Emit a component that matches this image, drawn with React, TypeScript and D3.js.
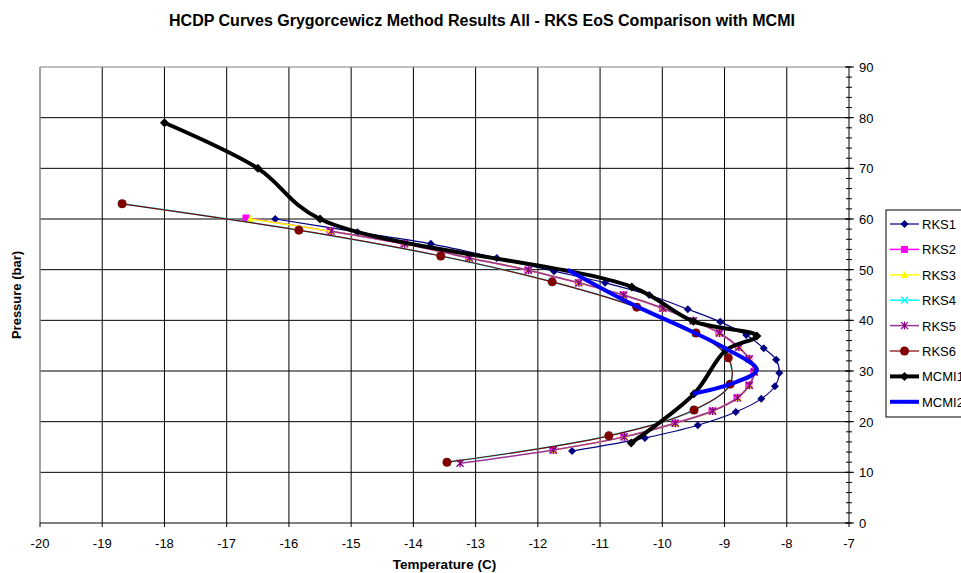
import React from "react";
import * as d3 from "d3";

// HCDP curves: temperature (C) vs pressure (bar)
const rks1: [number, number][] = [
  [-16.22, 60.0], [-14.9, 57.4], [-13.72, 55.1], [-12.66, 52.3], [-11.74, 49.7],
  [-10.92, 47.4], [-10.21, 45.0], [-9.59, 42.2], [-9.07, 39.7], [-8.65, 37.1],
  [-8.37, 34.5], [-8.17, 32.2], [-8.12, 29.6], [-8.19, 27.0], [-8.41, 24.5],
  [-8.82, 21.9], [-9.43, 19.3], [-10.28, 16.8], [-11.45, 14.2],
];
const rks2: [number, number][] = [
  [-16.69, 60.2], [-15.34, 57.6], [-14.15, 55.1], [-13.11, 52.3], [-12.16, 49.9],
  [-11.35, 47.4], [-10.63, 45.0], [-10.0, 42.4], [-9.51, 39.9], [-9.09, 37.5],
  [-8.78, 34.7], [-8.61, 32.4], [-8.53, 29.8], [-8.61, 27.2], [-8.8, 24.7],
  [-9.2, 22.1], [-9.8, 19.7], [-10.62, 17.0], [-11.76, 14.4],
];
const rks3: [number, number][] = [
  [-16.62, 60.0], [-15.33, 57.6], [-14.14, 55.1], [-13.1, 52.3], [-12.15, 49.9],
  [-11.34, 47.4], [-10.62, 45.0], [-9.99, 42.4], [-9.5, 39.9], [-9.08, 37.5],
  [-8.77, 34.7], [-8.6, 32.4], [-8.52, 29.8], [-8.6, 27.2], [-8.79, 24.7],
  [-9.19, 22.1], [-9.79, 19.7], [-10.61, 17.0], [-11.75, 14.4],
];
const rks4: [number, number][] = [
  [-18.68, 63.0], [-15.84, 57.8], [-13.56, 52.7], [-11.77, 47.6], [-10.41, 42.6],
  [-9.46, 37.5], [-8.94, 32.6], [-8.91, 27.4], [-9.49, 22.3], [-10.86, 17.2],
  [-13.46, 12.0],
];
const rks5: [number, number][] = [
  [-15.32, 57.6], [-14.14, 55.1], [-13.1, 52.3], [-12.15, 49.9],
  [-11.34, 47.4], [-10.62, 45.0], [-9.99, 42.4], [-9.5, 39.9], [-9.08, 37.5],
  [-8.77, 34.7], [-8.6, 32.4], [-8.52, 29.8], [-8.6, 27.2], [-8.79, 24.7],
  [-9.19, 22.1], [-9.79, 19.7], [-10.61, 17.0], [-11.75, 14.4], [-13.25, 11.8],
];
const rks6: [number, number][] = [
  [-18.68, 63.0], [-15.84, 57.8], [-13.56, 52.7], [-11.77, 47.6], [-10.41, 42.6],
  [-9.46, 37.5], [-8.94, 32.6], [-8.91, 27.4], [-9.49, 22.3], [-10.86, 17.2],
  [-13.46, 12.0],
];
const mcmi1: [number, number][] = [
  [-18.0, 79.0], [-16.5, 70.0], [-15.5, 60.0], [-10.49, 46.6], [-9.5, 39.8],
  [-8.48, 36.9], [-8.98, 34.1], [-9.49, 25.5], [-10.5, 15.8],
];
const mcmi2: [number, number][] = [
  [-11.52, 50.0], [-10.52, 43.4], [-9.51, 37.7], [-8.99, 34.5], [-8.48, 30.2],
  [-8.91, 27.4], [-9.51, 25.5],
];

const xTicks = d3.range(-20, -6, 1);
const yMajor = d3.range(0, 91, 10);
const yMinor = d3.range(0, 91, 2);

type Marker = "diamond" | "square" | "triangle" | "x" | "asterisk" | "circle" | "none";

interface Series {
  name: string;
  data: [number, number][];
  color: string;
  width: number;
  marker: Marker;
  size: number;
  fill: string;
}

const series: Series[] = [
  { name: "RKS1", data: rks1, color: "#000080", width: 1.2, marker: "diamond", size: 4, fill: "#000080" },
  { name: "RKS2", data: rks2, color: "#FF00FF", width: 1.5, marker: "square", size: 3.5, fill: "#FF00FF" },
  { name: "RKS3", data: rks3, color: "#FFFF00", width: 1.5, marker: "triangle", size: 4, fill: "#FFFF00" },
  { name: "RKS4", data: rks4, color: "#00FFFF", width: 1.5, marker: "x", size: 3.5, fill: "none" },
  { name: "RKS5", data: rks5, color: "#993399", width: 1.5, marker: "asterisk", size: 3.5, fill: "none" },
  { name: "RKS6", data: rks6, color: "#800000", width: 1.2, marker: "circle", size: 4.5, fill: "#800000" },
  { name: "MCMI1", data: mcmi1, color: "#000000", width: 4, marker: "diamond", size: 4.5, fill: "#000000" },
  { name: "MCMI2", data: mcmi2, color: "#0000FF", width: 4, marker: "none", size: 0, fill: "none" },
];

const W = 961;
const H = 573;
const PL = 40, PR = 849, PT = 67, PB = 523;

const x = d3.scaleLinear().domain([-20, -7]).range([PL, PR]);
const y = d3.scaleLinear().domain([0, 90]).range([PB, PT]);

const line = d3
  .line<[number, number]>()
  .x((d) => x(d[0]))
  .y((d) => y(d[1]))
  .curve(d3.curveCatmullRom.alpha(0.5));

function MarkerShape({ s, cx, cy }: { s: Series; cx: number; cy: number }) {
  const r = s.size;
  const c = s.color;
  switch (s.marker) {
    case "diamond":
      return <path d={`M${cx},${cy - r}L${cx + r},${cy}L${cx},${cy + r}L${cx - r},${cy}Z`} fill={s.fill} />;
    case "square":
      return <rect x={cx - r} y={cy - r} width={2 * r} height={2 * r} fill={s.fill} />;
    case "triangle":
      return <path d={`M${cx},${cy - r}L${cx + r},${cy + r * 0.8}L${cx - r},${cy + r * 0.8}Z`} fill={s.fill} />;
    case "x":
      return (
        <path d={`M${cx - r},${cy - r}L${cx + r},${cy + r}M${cx - r},${cy + r}L${cx + r},${cy - r}`} stroke={c} strokeWidth={1.3} fill="none" />
      );
    case "asterisk":
      return (
        <path
          d={`M${cx - r},${cy - r}L${cx + r},${cy + r}M${cx - r},${cy + r}L${cx + r},${cy - r}M${cx},${cy - r - 0.5}L${cx},${cy + r + 0.5}`}
          stroke="#800080"
          strokeWidth={1.3}
          fill="none"
        />
      );
    case "circle":
      return <circle cx={cx} cy={cy} r={r} fill={s.fill} />;
    default:
      return null;
  }
}

const font = "Liberation Sans, Arial, sans-serif";

export default function App() {
  const legendTop = 224;
  const legendStep = 25.4;
  return (
    <svg
      width={W}
      height={H}
      style={{ position: "absolute", left: 0, top: 0, display: "block", background: "#fff" }}
      fontFamily={font}
    >
      <rect x={0} y={0} width={W} height={H} fill="#fff" />
      <text x={482} y={26} textAnchor="middle" fontSize={16} fontWeight="bold">
        HCDP Curves Grygorcewicz Method Results All - RKS EoS Comparison with MCMI
      </text>

      {/* grid */}
      {xTicks.slice(1, -1).map((t) => (
        <line key={`gx${t}`} x1={x(t)} x2={x(t)} y1={PT} y2={PB} stroke="#000" strokeWidth={1} />
      ))}
      {yMajor.slice(1, -1).map((p) => (
        <line key={`gy${p}`} x1={PL} x2={PR} y1={y(p)} y2={y(p)} stroke="#000" strokeWidth={1} />
      ))}
      {/* plot frame */}
      <line x1={PL} x2={PR} y1={PT} y2={PT} stroke="#808080" strokeWidth={1} />
      <line x1={PL} x2={PL} y1={PT} y2={PB} stroke="#808080" strokeWidth={1.5} />

      {/* series */}
      {series.map((s) => (
        <g key={s.name}>
          <path d={line(s.data) ?? ""} fill="none" stroke={s.color} strokeWidth={s.width} strokeLinejoin="round" />
          {s.data.map((d, i) => (
            <MarkerShape key={i} s={s} cx={x(d[0])} cy={y(d[1])} />
          ))}
        </g>
      ))}

      {/* bottom axis */}
      <line x1={PL} x2={PR} y1={PB} y2={PB} stroke="#000" strokeWidth={1} />
      {xTicks.map((t) => (
        <g key={`xt${t}`}>
          <line x1={x(t)} x2={x(t)} y1={PB} y2={PB + 4} stroke="#000" />
          <text x={x(t)} y={PB + 25} textAnchor="middle" fontSize={13}>
            {t}
          </text>
        </g>
      ))}

      {/* right axis */}
      <line x1={PR} x2={PR} y1={PT} y2={PB} stroke="#000" strokeWidth={1} />
      {yMinor.map((p) => (
        <line key={`ym${p}`} x1={PR - 3} x2={PR + 3} y1={y(p)} y2={y(p)} stroke="#000" />
      ))}
      {yMajor.map((p) => (
        <g key={`yt${p}`}>
          <line x1={PR - 4} x2={PR + 5} y1={y(p)} y2={y(p)} stroke="#000" />
          <text x={PR + 10} y={y(p) + 5} fontSize={13}>
            {p}
          </text>
        </g>
      ))}

      <text x={(PL + PR) / 2} y={569} textAnchor="middle" fontSize={13.5} fontWeight="bold">
        Temperature (C)
      </text>
      <text
        transform={`translate(21,${(PT + PB) / 2}) rotate(-90)`}
        textAnchor="middle"
        fontSize={13}
        fontWeight="bold"
      >
        Pressure (bar)
      </text>

      {/* legend */}
      <rect x={886} y={210} width={90} height={207} fill="#fff" stroke="#000" strokeWidth={1} />
      {series.map((s, i) => {
        const ly = legendTop + i * legendStep;
        return (
          <g key={`lg${s.name}`}>
            <line x1={890} x2={919} y1={ly} y2={ly} stroke={s.color} strokeWidth={s.width} />
            <MarkerShape s={s} cx={904.5} cy={ly} />
            <text x={922} y={ly + 5} fontSize={13}>
              {s.name}
            </text>
          </g>
        );
      })}
    </svg>
  );
}
